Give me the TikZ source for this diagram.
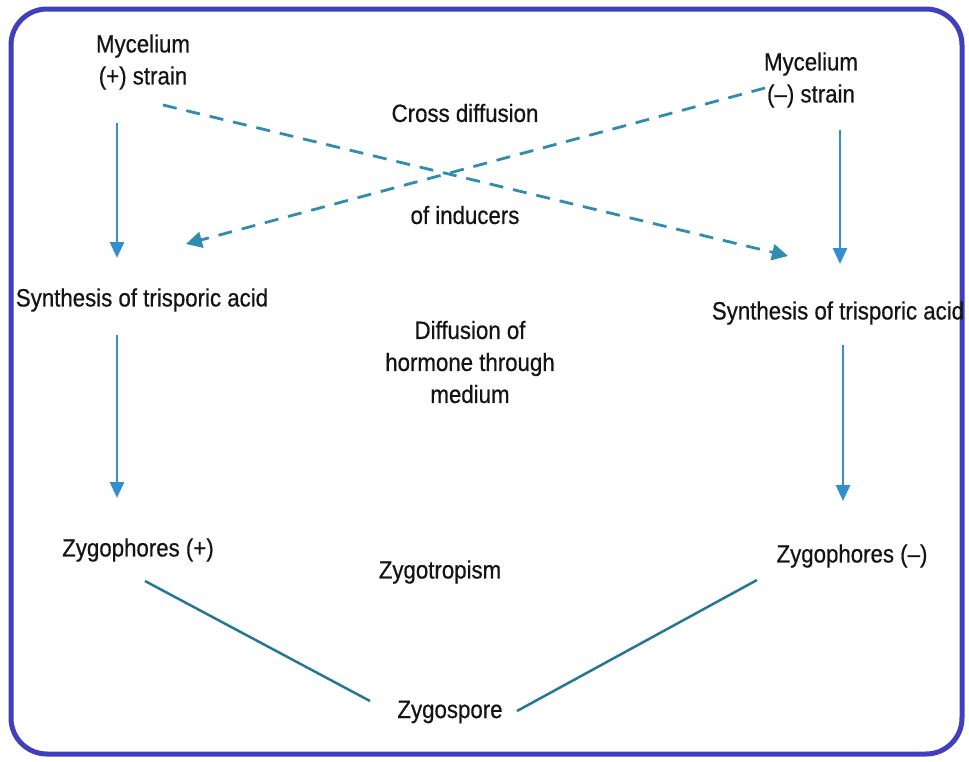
\documentclass[tikz,border=0pt]{standalone}
\usepackage{fontspec}
\setmainfont{Liberation Sans}
\newfontfamily\lblfont[FakeStretch=0.89,FakeBold=0.6]{Liberation Sans}
\usetikzlibrary{arrows.meta}
\definecolor{frame}{RGB}{64,64,190}
\definecolor{arr}{RGB}{52,142,205}
\definecolor{lnk}{RGB}{38,118,150}
\definecolor{dsh}{RGB}{50,140,175}
\tikzset{
  lbl/.style={font=\lblfont\fontsize{25}{32}\selectfont, align=center, text=black!92, inner sep=2pt},
  vflow/.style={draw=arr, line width=2.8pt, -{Triangle[length=16pt,width=14pt]}},
  cross/.style={draw=dsh, line width=2.8pt, dash pattern=on 14pt off 10pt, -{Triangle[length=16pt,width=16pt]}},
  link/.style={draw=lnk, line width=2.5pt}
}
\begin{document}
\begin{tikzpicture}[x=1pt,y=-1pt]
\useasboundingbox (0,0) rectangle (969,761);
\fill[white] (0,0) rectangle (969,761);
\draw[frame, line width=5pt, rounded corners=36pt] (11,9) rectangle (962,754);

\node[lbl] (mp) at (143,62) {Mycelium\\(+) strain};
\node[lbl] (mm) at (811,80) {Mycelium\\(\textendash) strain};
\node[lbl] (cd) at (465,113) {Cross diffusion};
\node[lbl] (oi) at (465,215) {of inducers};
\node[lbl] (sl) at (142,300) {Synthesis of trisporic acid};
\node[lbl] (sr) at (838,313) {Synthesis of trisporic acid};
\node[lbl] (dh) at (470,362) {Diffusion of\\hormone through\\medium};
\node[lbl] (zl) at (138,550) {Zygophores (+)};
\node[lbl] (zr) at (852,556) {Zygophores (\textendash)};
\node[lbl] (zt) at (440,572) {Zygotropism};
\node[lbl] (zs) at (450,712) {Zygospore};

\coordinate (a1s) at (117,123); \coordinate (a1e) at (117,258);
\coordinate (a2s) at (117,335); \coordinate (a2e) at (117,498);
\coordinate (a3s) at (840,130); \coordinate (a3e) at (840,264);
\coordinate (a4s) at (843,345); \coordinate (a4e) at (843,501);
\draw[vflow] (a1s) -- (a1e);
\draw[vflow] (a2s) -- (a2e);
\draw[vflow] (a3s) -- (a3e);
\draw[vflow] (a4s) -- (a4e);

\coordinate (d1s) at (163,105); \coordinate (d1e) at (788,256);
\coordinate (d2s) at (765,88); \coordinate (d2e) at (186,244);
\draw[cross] (d1s) -- (d1e);
\draw[cross] (d2s) -- (d2e);

\coordinate (l1s) at (145,581); \coordinate (l1e) at (370,701);
\coordinate (l2s) at (757,580); \coordinate (l2e) at (517,711);
\draw[link] (l1s) -- (l1e);
\draw[link] (l2s) -- (l2e);
\end{tikzpicture}
\end{document}
